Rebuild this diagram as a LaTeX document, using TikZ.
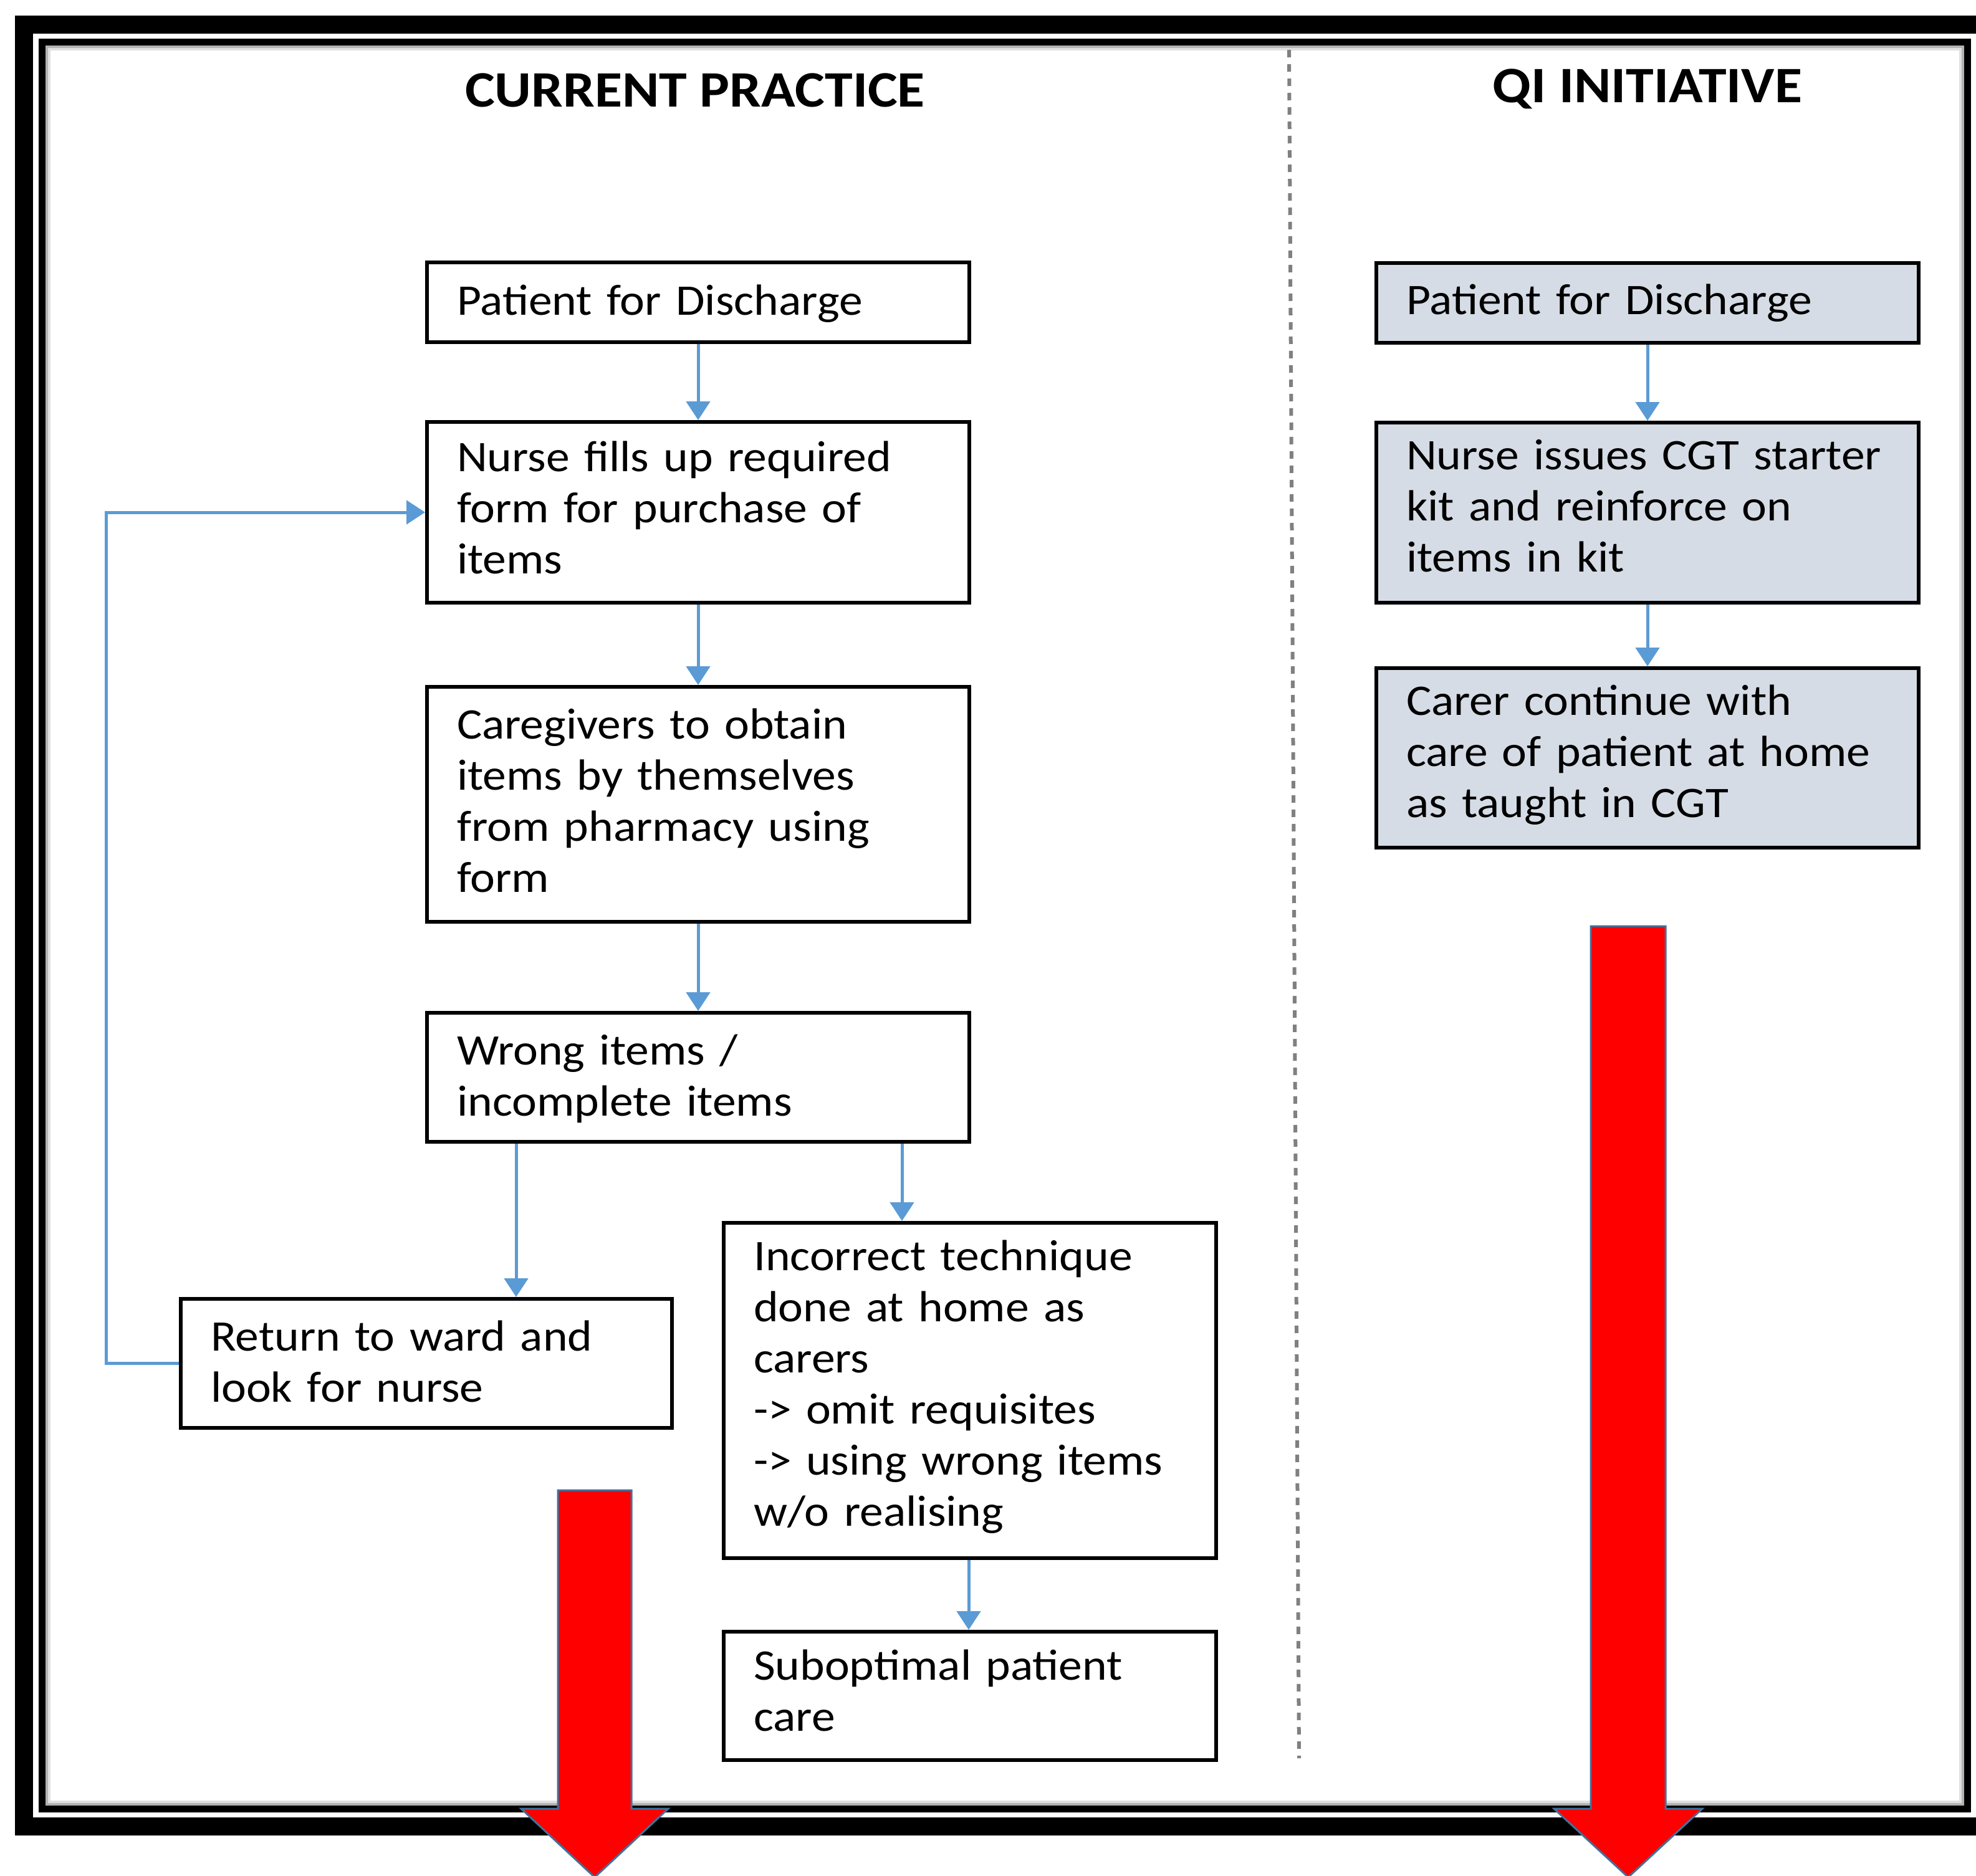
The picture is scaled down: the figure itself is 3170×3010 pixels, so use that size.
\documentclass[tikz,border=0pt]{standalone}
\usepackage{fontspec}
\usetikzlibrary{arrows.meta}
\newfontfamily\bodyfam[FakeStretch=1.08]{Carlito}
\newfontfamily\titlefam[FakeStretch=1.1]{Carlito}
\newcommand{\bodyfont}{\bodyfam\fontsize{70}{82}\selectfont}
\newcommand{\titlefont}{\titlefam\bfseries\fontsize{82}{90}\selectfont}
\definecolor{cblue}{HTML}{5B9BD5}
\definecolor{qifill}{HTML}{D6DCE5}
\definecolor{aedge}{HTML}{41719C}
\tikzset{
  box/.style={draw=black, line width=6pt, rectangle, anchor=north west,
    inner xsep=48pt, inner ysep=0pt, align=left, font=\bodyfont},
  qibox/.style={box, fill=qifill},
  conn/.style={draw=cblue, line width=5pt, -{Triangle[length=30pt,width=38pt]}},
  titletext/.style={font=\titlefont, anchor=base, inner sep=0pt},
  redarrow/.style={fill=red, draw=aedge, line width=3pt, line join=miter},
  divider/.style={draw=gray, line width=6pt, dash pattern=on 12pt off 11pt}
}
\begin{document}
\begin{tikzpicture}[x=1pt,y=-1pt]
\useasboundingbox (0,0) rectangle (3170,3010);
\fill[white] (0,0) rectangle (3170,3010);
% frames
\draw[black, line width=29pt] (38.5,39.5) rectangle (3300,2930);
\draw[black, line width=11pt] (67.5,68) rectangle (3156,2902);
\draw[gray!60, line width=4pt] (75,75) rectangle (3149,2895);
\draw[gray!25, line width=4pt] (79,79) rectangle (3145,2891);
% divider
\draw[divider] (2068,80) -- (2084,2821);
% titles
\node[titletext] (t1) at (1115,172) {CURRENT PRACTICE};
\node[titletext] (t2) at (2643,165) {QI INITIATIVE};
% left column
\node[box, text width=774pt, text height=84pt, text depth=44pt] (b1) at (682,418)
  {Patient for Discharge};
\node[box, text width=774pt, text height=79pt, text depth=211pt] (b2) at (682,674)
  {Nurse fills up required\\form for purchase of\\items};
\node[box, text width=774pt, text height=83pt, text depth=294pt] (b3) at (682,1099)
  {Caregivers to obtain\\items by themselves\\from pharmacy using\\form};
\node[box, text width=774pt, text height=83pt, text depth=124pt] (b4) at (682,1622)
  {Wrong items /\\incomplete items};
\node[box, text width=692pt, text height=83pt, text depth=124pt] (b5) at (287,2081)
  {Return to ward and\\look for nurse};
\node[box, text width=694pt, text height=76pt, text depth=462pt] (b6) at (1158,1959)
  {Incorrect technique\\done at home as\\carers\\-> omit requisites\\-> using wrong items\\w/o realising};
\node[box, text width=694pt, text height=77pt, text depth=129pt] (b7) at (1158,2615)
  {Suboptimal patient\\care};
% right column
\node[qibox, text width=774pt, text height=82pt, text depth=46pt] (r1) at (2205,419)
  {Patient for Discharge};
\node[qibox, text width=774pt, text height=75pt, text depth=214pt] (r2) at (2205,675)
  {Nurse issues CGT starter\\kit and reinforce on\\items in kit};
\node[qibox, text width=774pt, text height=75pt, text depth=213pt] (r3) at (2205,1069)
  {Carer continue with\\care of patient at home\\as taught in CGT};
% connectors
\coordinate (x45) at (828,0);
\coordinate (x46) at (1447,0);
\coordinate (x67) at (1554,0);
\coordinate (loopx) at (170,0);
\draw[conn] (b1.south) -- (b2.north);
\draw[conn] (b2.south) -- (b3.north);
\draw[conn] (b3.south) -- (b4.north);
\draw[conn] (b4.south -| x45) -- (b5.north -| x45);
\draw[conn] (b4.south -| x46) -- (b6.north -| x46);
\draw[conn] (b6.south -| x67) -- (b7.north -| x67);
\draw[conn] (b5.west) -- (b5.west -| loopx) |- (b2.west);
\draw[conn] (r1.south) -- (r2.north);
\draw[conn] (r2.south) -- (r3.north);
% red arrows
\draw[redarrow] (895,2391) -- (1013,2391) -- (1013,2902) -- (1072,2902)
  -- (954,3012) -- (836,2902) -- (895,2902) -- cycle;
\draw[redarrow] (2552,1486) -- (2672,1486) -- (2672,2902) -- (2731,2902)
  -- (2612,3012) -- (2493,2902) -- (2552,2902) -- cycle;
\end{tikzpicture}
\end{document}
